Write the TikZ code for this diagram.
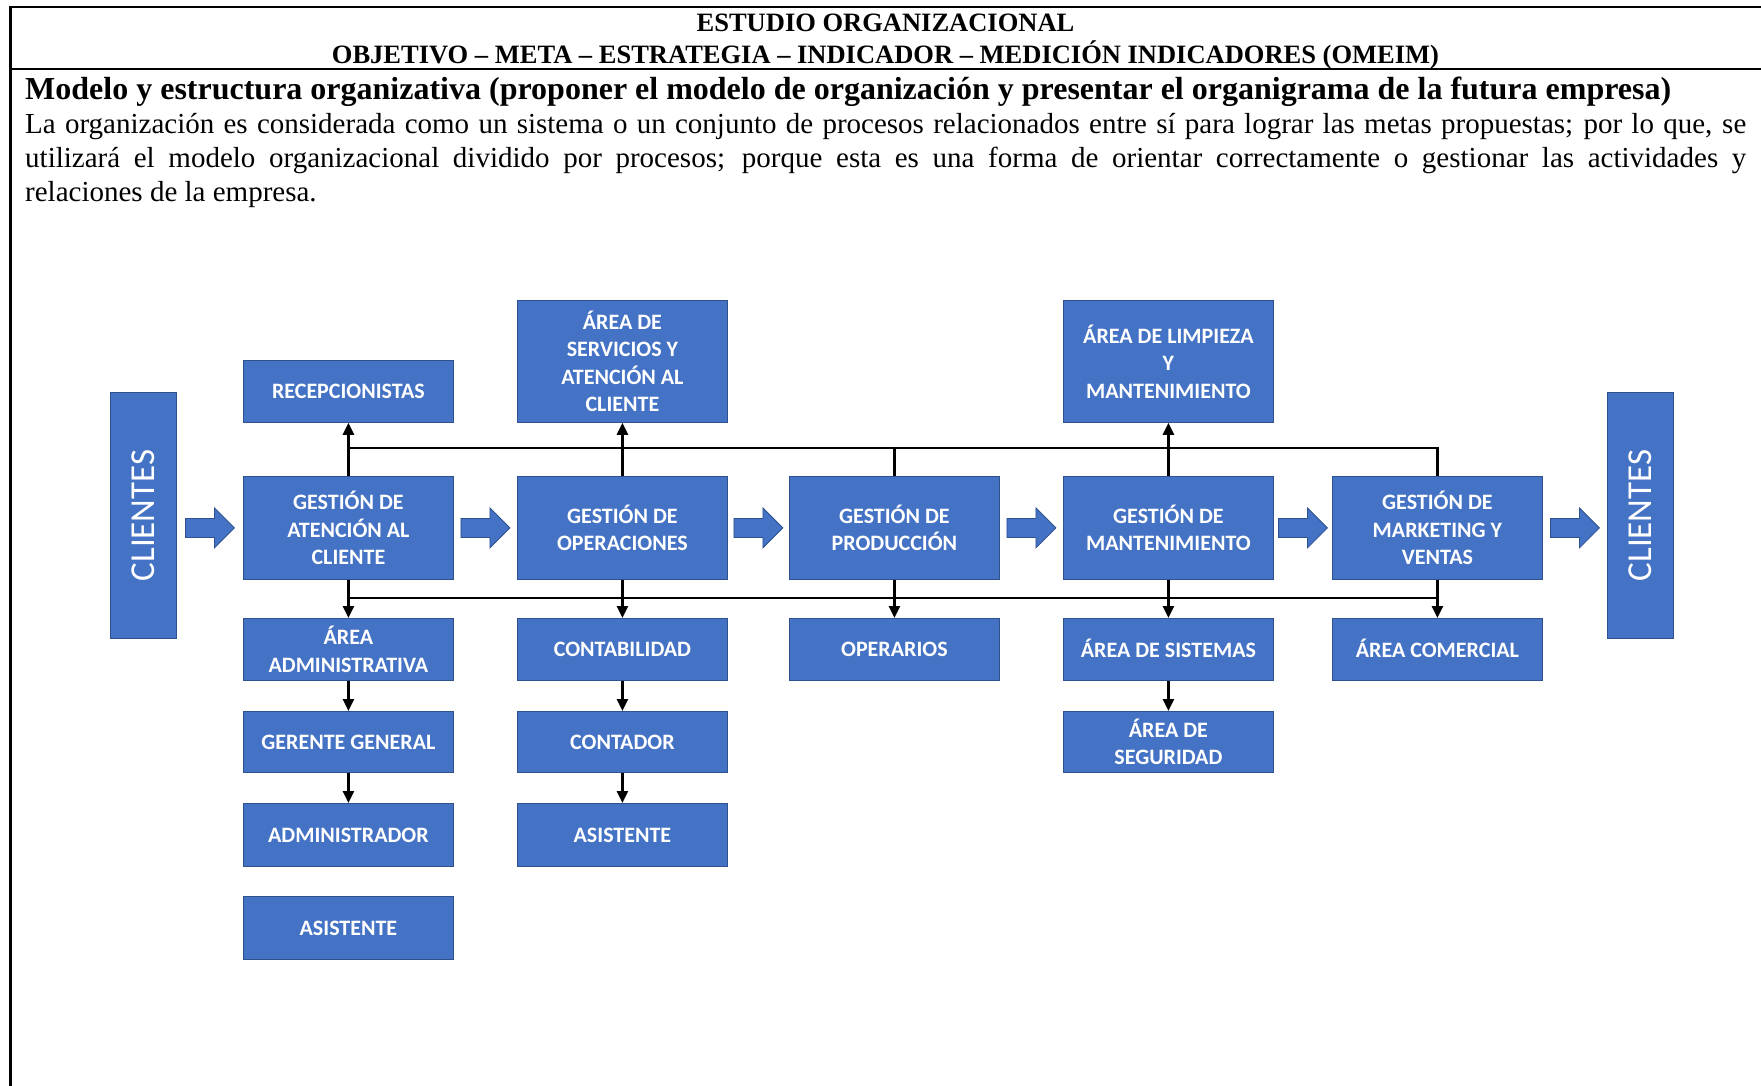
\documentclass[tikz,border=0pt]{standalone}
\usepackage{fontspec}
\usepackage{graphicx}
\setmainfont{Liberation Serif}
\newfontfamily\boxfont{Carlito}
\usetikzlibrary{arrows.meta,calc}
\definecolor{boxblue}{HTML}{4472C4}
\definecolor{boxline}{HTML}{2F528F}
\begin{document}
\begin{tikzpicture}[x=1pt,y=-1pt,
  ubox/.style={draw=boxline, line width=0.8pt, fill=boxblue, text=white,
    inner sep=0pt, align=center, anchor=north west, minimum width=210pt,
    font=\boxfont\bfseries\fontsize{22}{27.5}\selectfont},
  tallbox/.style={ubox, minimum height=122pt},
  shortbox/.style={ubox, minimum height=62pt},
  procbox/.style={ubox, minimum height=103pt},
  clientbox/.style={draw=boxline, line width=0.8pt, fill=boxblue, text=white,
    inner sep=0pt, anchor=north west, minimum width=66pt, minimum height=246pt,
    font=\boxfont\fontsize{35}{35}\selectfont},
  link/.style={line width=2.6pt, black},
  arrowlink/.style={link, -{Triangle[length=12pt,width=11pt]}},
  frameline/.style={line width=2.2pt, black},
  pics/flowarrow/.style={code={
    \filldraw[draw=boxline, line width=0.8pt, fill=boxblue]
      (-24.5,-9.5) -- (4.5,-9.5) -- (4.5,-20) -- (24.5,0) -- (4.5,20)
      -- (4.5,9.5) -- (-24.5,9.5) -- cycle;}}
]
\useasboundingbox (0,0) rectangle (1761,1086);

% page frame and header rules
\draw[frameline] (9,7) -- (1761,7);
\draw[frameline] (9,69) -- (1761,69);
\draw[line width=3pt] (10,6) -- (10,1086);

% header and introduction text
\node[anchor=base, inner sep=0pt, font=\bfseries\fontsize{26.5}{30}\selectfont] (h1) at (885.5,32) {ESTUDIO ORGANIZACIONAL};
\node[anchor=base, inner sep=0pt, font=\bfseries\fontsize{26.5}{30}\selectfont] (h2) at (885.5,64) {OBJETIVO – META – ESTRATEGIA – INDICADOR – MEDICIÓN INDICADORES (OMEIM)};
\node[anchor=base west, inner sep=0pt, font=\bfseries\fontsize{32}{36}\selectfont] (ttl) at (25,100) {Modelo y estructura organizativa (proponer el modelo de organización y presentar el organigrama de la futura empresa)};
\node[anchor=base west, inner sep=0pt, font=\fontsize{29}{31}\selectfont] (p1) at (25,134) {\makebox[1721pt][s]{La organización es considerada como un sistema o un conjunto de procesos relacionados entre sí para lograr las metas propuestas; por lo que, se}};
\node[anchor=base west, inner sep=0pt, font=\fontsize{29}{31}\selectfont] (p2) at (25,167.5) {\makebox[1721pt][s]{utilizará el modelo organizacional dividido por procesos; porque esta es una forma de orientar correctamente o gestionar las actividades y}};
\node[anchor=base west, inner sep=0pt, font=\fontsize{29}{31}\selectfont] (p3) at (25,201) {relaciones de la empresa.};

% clients at both ends
\node[clientbox] (cl1) at (110,392) {\rotatebox{90}{CLIENTES}};
\node[clientbox] (cl2) at (1607,392) {\rotatebox{90}{CLIENTES}};

% upper units
\node[shortbox] (rec) at (243,360) {RECEPCIONISTAS};
\node[tallbox] (srv) at (517,300) {ÁREA DE\\SERVICIOS Y\\ATENCIÓN AL\\CLIENTE};
\node[tallbox] (lim) at (1063,300) {ÁREA DE LIMPIEZA\\Y\\MANTENIMIENTO};

% process chain
\node[procbox] (g1) at (243,476) {GESTIÓN DE\\ATENCIÓN AL\\CLIENTE};
\node[procbox] (g2) at (517,476) {GESTIÓN DE\\OPERACIONES};
\node[procbox] (g3) at (789,476) {GESTIÓN DE\\PRODUCCIÓN};
\node[procbox] (g4) at (1063,476) {GESTIÓN DE\\MANTENIMIENTO};
\node[procbox] (g5) at (1332,476) {GESTIÓN DE\\MARKETING Y\\VENTAS};

% lower units
\node[shortbox] (a1) at (243,618) {ÁREA\\ADMINISTRATIVA};
\node[shortbox] (a2) at (517,618) {CONTABILIDAD};
\node[shortbox] (a3) at (789,618) {OPERARIOS};
\node[shortbox] (a4) at (1063,618) {\raisebox{1.5pt}{ÁREA DE SISTEMAS}};
\node[shortbox] (a5) at (1332,618) {\raisebox{1.5pt}{ÁREA COMERCIAL}};
\node[shortbox, minimum height=61pt] (b1) at (243,711) {GERENTE GENERAL};
\node[shortbox, minimum height=61pt] (b2) at (517,711) {CONTADOR};
\node[shortbox, minimum height=61pt] (b4) at (1063,711) {ÁREA DE\\SEGURIDAD};
\node[shortbox, minimum height=63pt] (c1) at (243,803) {ADMINISTRADOR};
\node[shortbox, minimum height=63pt] (c2) at (517,803) {ASISTENTE};
\node[shortbox, minimum height=63pt] (d1) at (243,896) {ASISTENTE};

% flow arrows between the processes
\pic at ($(cl1.east |- g1.west)!0.5!(g1.west)$) {flowarrow};
\pic at ($(g1.east)!0.5!(g2.west)$) {flowarrow};
\pic at ($(g2.east)!0.5!(g3.west)$) {flowarrow};
\pic at ($(g3.east)!0.5!(g4.west)$) {flowarrow};
\pic at ($(g4.east)!0.5!(g5.west)$) {flowarrow};
\pic at ($(g5.east)!0.5!(cl2.west |- g5.east)$) {flowarrow};

% buses
\coordinate (busU) at (0,448);
\coordinate (busL) at (0,598);
\draw[link] (g1.north |- busU) -| (g5.north);
\draw[link] (g3.north) -- (g3.north |- busU);
\draw[link] (g1.south |- busL) -| (g5.south);

% upward links
\draw[arrowlink] (g1.north) -- (rec.south);
\draw[arrowlink] (g2.north) -- (srv.south);
\draw[arrowlink] (g4.north) -- (lim.south);

% downward links
\draw[arrowlink] (g1.south) -- (a1.north);
\draw[arrowlink] (g2.south) -- (a2.north);
\draw[arrowlink] (g3.south) -- (a3.north);
\draw[arrowlink] (g4.south) -- (a4.north);
\draw[arrowlink] (g5.south) -- (a5.north);
\draw[arrowlink] (a1.south) -- (b1.north);
\draw[arrowlink] (b1.south) -- (c1.north);
\draw[arrowlink] (a2.south) -- (b2.north);
\draw[arrowlink] (b2.south) -- (c2.north);
\draw[arrowlink] (a4.south) -- (b4.north);
\end{tikzpicture}
\end{document}
